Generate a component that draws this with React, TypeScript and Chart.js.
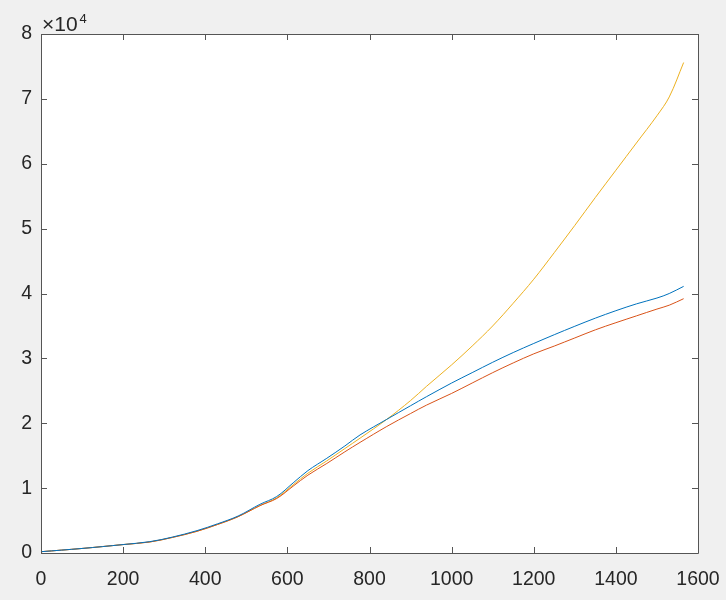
import React, { useEffect, useRef } from "react";
import { Chart, registerables } from "chart.js";

Chart.register(...registerables);

const xValues = [0, 100, 200, 265, 320, 380, 430, 480, 533, 574, 614, 650, 696, 740, 777, 842, 900, 939, 1000, 1050, 1100, 1150, 1200, 1250, 1300, 1350, 1400, 1450, 1500, 1530, 1565];
const blueValues = [200, 700, 1300, 1750, 2450, 3450, 4500, 5700, 7500, 8700, 10800, 12700, 14600, 16500, 18200, 20600, 22700, 24100, 26200, 27800, 29400, 30900, 32300, 33650, 34950, 36200, 37350, 38400, 39300, 40000, 41100];
const redValues = [200, 700, 1300, 1700, 2400, 3350, 4400, 5600, 7300, 8400, 10300, 12000, 13800, 15600, 17050, 19500, 21500, 22800, 24600, 26200, 27800, 29300, 30700, 31900, 33150, 34400, 35500, 36550, 37600, 38200, 39200];
const yellowValues = [200, 700, 1300, 1700, 2400, 3350, 4400, 5600, 7300, 8500, 10500, 12300, 14200, 16100, 17700, 20600, 23500, 25700, 29000, 31900, 35000, 38500, 42200, 46300, 50500, 54800, 59000, 63200, 67400, 70300, 75600];
const xTicks = [0, 200, 400, 600, 800, 1000, 1200, 1400, 1600];
const yTicks = [0, 10000, 20000, 30000, 40000, 50000, 60000, 70000, 80000];

const FONT = "'Liberation Sans', Arial, Helvetica, sans-serif";
const TEXT = "#262626";
const AXIS = "#555555";

const boxPlugin = {
  id: "matlabBox",
  afterDraw(chart: any) {
    const { ctx, chartArea, scales } = chart;
    const { left, right, top, bottom } = chartArea;
    ctx.save();
    ctx.strokeStyle = AXIS;
    ctx.lineWidth = 1;
    ctx.beginPath();
    ctx.rect(Math.round(left) + 0.5, Math.round(top) + 0.5, Math.round(right - left), Math.round(bottom - top));
    ctx.stroke();
    const tl = 6;
    ctx.beginPath();
    for (const v of xTicks) {
      const px = Math.round(scales.x.getPixelForValue(v)) + 0.5;
      ctx.moveTo(px, bottom);
      ctx.lineTo(px, bottom - tl);
      ctx.moveTo(px, top);
      ctx.lineTo(px, top + tl);
    }
    for (const v of yTicks) {
      const py = Math.round(scales.y.getPixelForValue(v)) + 0.5;
      ctx.moveTo(left, py);
      ctx.lineTo(left + tl, py);
      ctx.moveTo(right, py);
      ctx.lineTo(right - tl, py);
    }
    ctx.stroke();
    // exponent label
    ctx.fillStyle = TEXT;
    ctx.textBaseline = "alphabetic";
    ctx.textAlign = "left";
    ctx.font = `21px ${FONT}`;
    ctx.fillText("\u00d710", left + 1, 31);
    const w = ctx.measureText("\u00d710").width;
    ctx.font = `13px ${FONT}`;
    ctx.fillText("4", left + 2 + w + 1, 23);
    ctx.restore();
  },
};

export default function App() {
  const ref = useRef<HTMLCanvasElement>(null);
  useEffect(() => {
    document.body.style.margin = "0";
    document.body.style.background = "#f0f0f0";
    const canvas = ref.current!;
    const mk = (ys: number[]) => xValues.map((x, i) => ({ x, y: ys[i] }));
    const common = { pointRadius: 0, borderWidth: 1, tension: 0.35, fill: false };
    const chart = new Chart(canvas, {
      type: "line",
      data: {
        datasets: [
          { ...common, data: mk(blueValues), borderColor: "#0072BD" },
          { ...common, data: mk(redValues), borderColor: "#D95319" },
          { ...common, data: mk(yellowValues), borderColor: "#EDB120" },
        ],
      },
      options: {
        responsive: false,
        animation: false,
        layout: { padding: { left: 0, right: 28, top: 34, bottom: 0 } },
        plugins: { legend: { display: false }, tooltip: { enabled: false } },
        scales: {
          x: {
            type: "linear",
            min: 0,
            max: 1600,
            afterBuildTicks: (s: any) => { s.ticks = xTicks.map((v) => ({ value: v })); },
            afterFit: (s: any) => { s.height = 47; s.paddingLeft = 0; s.paddingRight = 0; },
            grid: { display: false, drawTicks: false },
            border: { display: false },
            ticks: { color: TEXT, font: { family: FONT, size: 19.5 }, padding: 15, maxRotation: 0, autoSkip: false, callback: (v: any) => String(v) },
          },
          y: {
            type: "linear",
            min: 0,
            max: 80000,
            afterBuildTicks: (s: any) => { s.ticks = yTicks.map((v) => ({ value: v })); },
            afterFit: (s: any) => { s.width = 41; s.paddingTop = 0; s.paddingBottom = 0; },
            grid: { display: false, drawTicks: false },
            border: { display: false },
            ticks: { color: TEXT, font: { family: FONT, size: 19.5 }, padding: 9, callback: (v: any) => String(Number(v) / 10000) },
          },
        },
      },
      plugins: [
        {
          id: "whiteBg",
          beforeDraw(c: any) {
            const { ctx, chartArea } = c;
            ctx.save();
            ctx.fillStyle = "#ffffff";
            ctx.fillRect(chartArea.left, chartArea.top, chartArea.right - chartArea.left, chartArea.bottom - chartArea.top);
            ctx.restore();
          },
        },
        boxPlugin,
      ],
    });
    return () => chart.destroy();
  }, []);
  return (
    <div style={{ width: 726, height: 600, background: "#f0f0f0" }}>
      <canvas ref={ref} width={726} height={600} style={{ display: "block" }} />
    </div>
  );
}
